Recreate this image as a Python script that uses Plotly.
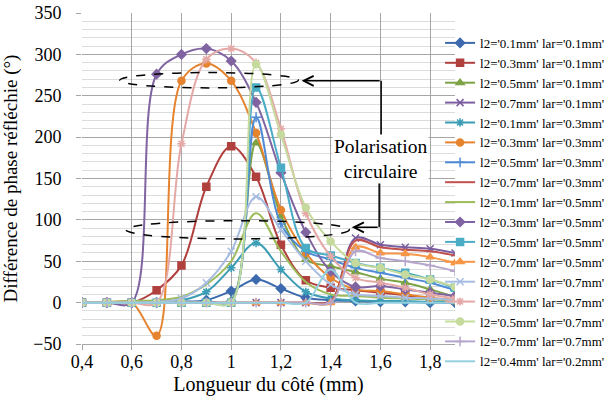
import plotly.graph_objects as go

x_vals = [0.4, 0.5, 0.6, 0.7, 0.8, 0.9, 1.0, 1.1, 1.2, 1.3, 1.4, 1.5, 1.6, 1.7, 1.8, 1.9]

names = [
    "l2='0.1mm' lar='0.1mm'", "l2='0.3mm' lar='0.1mm'", "l2='0.5mm' lar='0.1mm'", "l2='0.7mm' lar='0.1mm'",
    "l2='0.1mm' lar='0.3mm'", "l2='0.3mm' lar='0.3mm'", "l2='0.5mm' lar='0.3mm'", "l2='0.7mm' lar='0.3mm'",
    "l2='0.1mm' lar='0.5mm'", "l2='0.3mm' lar='0.5mm'", "l2='0.5mm' lar='0.5mm'", "l2='0.7mm' lar='0.5mm'",
    "l2='0.1mm' lar='0.7mm'", "l2='0.3mm' lar='0.7mm'", "l2='0.5mm' lar='0.7mm'", "l2='0.7mm' lar='0.7mm'",
    "l2='0.4mm' lar='0.2mm'",
]

s01_01 = [0, 0, 0, 0, 1, 3, 14, 28, 17, 6, 3, 2, 1, 1, 0, 0]
s03_01 = [0, 0, 0, 15, 45, 140, 189, 152, 70, 27, 18, 15, 12, 9, 5, 3]
s05_01 = [0, 0, 0, 0, 0, 1, 3, 193, 105, 52, 44, 37, 29, 24, 16, 7]
s07_01 = [0, 0, 0, 0, 0, 0, 0, 0, 0, 0, 2, 78, 70, 67, 65, 60]
s01_03 = [0, 0, 0, 1, 3, 13, 42, 72, 40, 13, 5, 3, 2, 2, 1, 1]
s03_03 = [0, 0, 0, -40, 268, 289, 268, 205, 112, 60, 30, 16, 14, 10, 6, 3]
s05_03 = [0, 0, 0, 0, 0, 1, 2, 224, 95, 62, 52, 42, 36, 30, 24, 15]
s07_03 = [0, 0, 0, 0, 0, 0, 0, 0, 0, 0, 2, 75, 67, 64, 62, 57]
s01_05 = [0, 1, 2, 3, 7, 22, 50, 108, 62, 25, 10, 8, 6, 5, 4, 3]
s03_05 = [0, 0, 0, 276, 300, 307, 292, 242, 157, 85, 38, 19, 20, 16, 12, 8]
s05_05 = [0, 0, 0, 0, 0, 0, 0, 260, 163, 66, 57, 48, 42, 36, 28, 18]
s07_05 = [0, 0, 0, 0, 0, 0, 0, 0, 0, 0, 0, 67, 60, 59, 55, 48]
s01_07 = [0, 0, 0, 1, 5, 24, 62, 128, 88, 50, 22, 10, 8, 6, 5, 3]
s03_07 = [0, 0, 0, 0, 192, 294, 307, 290, 210, 108, 56, 30, 24, 18, 10, 5]
s05_07 = [0, 0, 0, 0, 0, 0, 0, 288, 203, 115, 74, 48, 42, 34, 28, 19]
s07_07 = [0, 0, 0, 0, 0, 0, 0, 0, 0, 0, 0, 62, 54, 50, 45, 38]
s04_02 = [0, 0, 0, 0, 0, 0, 0, 0, 0, 0, 40, 0, 0, 0, 0, 0]

series = [s01_01, s03_01, s05_01, s07_01, s01_03, s03_03, s05_03, s07_03,
          s01_05, s03_05, s05_05, s07_05, s01_07, s03_07, s05_07, s07_07, s04_02]

colors = ["#3D6AAE", "#B0403D", "#7DA345", "#7B5EA0", "#3A9DB5", "#E5832F",
          "#4F8BD5", "#C0504D", "#9BBB59", "#8064A2", "#4BACC6", "#F79646",
          "#A7BCE2", "#E4A9A7", "#C6DA9E", "#B6A6CC", "#94D0E0"]
symbols = ["diamond", "square", "triangle-up", "x-thin-open", "asterisk-open", "circle",
           "cross-thin-open", None, None, "diamond", "square", "triangle-up",
           "x-thin-open", "asterisk-open", "circle", "cross-thin-open", None]

FONT = "Liberation Serif"

fig = go.Figure()
for name, ys, col, sym in zip(names, series, colors, symbols):
    if sym is None:
        mode = "lines"
        marker = dict()
    else:
        mode = "lines+markers"
        marker = dict(symbol=sym, size=7, color=col, line=dict(color=col, width=1.5))
    fig.add_trace(go.Scatter(x=x_vals, y=ys, name=name, mode=mode,
                             line=dict(color=col, width=2, shape="spline", smoothing=1),
                             marker=marker))

# dashed ellipses
fig.add_shape(type="circle", xref="x", yref="y", x0=0.552, x1=1.27, y0=259.5, y1=278,
              line=dict(color="black", width=1.5, dash="dash"))
fig.add_shape(type="circle", xref="x", yref="y", x0=0.577, x1=1.475, y0=77, y1=99,
              line=dict(color="black", width=1.5, dash="dash"))
# elbow connector vertical parts
fig.add_shape(type="line", xref="x", yref="y", x0=1.603, x1=1.603, y0=268, y1=201,
              line=dict(color="black", width=1.5))
fig.add_shape(type="line", xref="x", yref="y", x0=1.595, x1=1.595, y0=145, y1=91,
              line=dict(color="black", width=1.5))
# arrows
fig.add_annotation(x=1.283, y=268, ax=1.603, ay=268, axref="x", ayref="y", xref="x", yref="y",
                   text="", showarrow=True, arrowhead=5, arrowsize=1.3, arrowwidth=1.5, arrowcolor="black")
fig.add_annotation(x=1.485, y=91, ax=1.595, ay=91, axref="x", ayref="y", xref="x", yref="y",
                   text="", showarrow=True, arrowhead=5, arrowsize=1.3, arrowwidth=1.5, arrowcolor="black")
fig.add_annotation(x=1.6, y=173, xref="x", yref="y", text="Polarisation<br>circulaire",
                   showarrow=False, bgcolor="white", font=dict(family=FONT, size=19.5, color="black"))

fig.update_layout(
    width=611, height=405,
    margin=dict(l=82, r=156, t=13, b=61, autoexpand=False),
    paper_bgcolor="white", plot_bgcolor="white",
    separators=", ",
    font=dict(family=FONT, size=18, color="black"),
    showlegend=True,
    legend=dict(x=0.96, xref="paper", y=0.931, yref="container", xanchor="left", yanchor="top",
                maxheight=1,
                font=dict(family=FONT, size=13, color="black"),
                bgcolor="rgba(0,0,0,0)", tracegroupgap=0),
    xaxis=dict(range=[0.4, 1.9], tick0=0.4, dtick=0.2, showgrid=True, gridcolor="#a6a6a6",
               gridwidth=1, zeroline=False, showline=True, linecolor="#a6a6a6",
               ticks="outside", ticklen=5, tickcolor="#a6a6a6", ticklabelstandoff=-4,
               ticklabeloverflow="allow",
               title=dict(text="Longueur du côté (mm)", font=dict(family=FONT, size=20), standoff=6),
               tickfont=dict(family=FONT, size=18)),
    yaxis=dict(range=[-50, 350], tick0=0, dtick=50, showgrid=True, gridcolor="#a6a6a6",
               gridwidth=1, zeroline=False, showline=False,
               ticks="outside", ticklen=5, tickcolor="#a6a6a6", ticklabelstandoff=11,
               ticklabeloverflow="allow",
               minor=dict(dtick=10, showgrid=True, gridcolor="#dcdcdc", gridwidth=1),
               title=dict(text="Différence de phase réfléchie (°)", font=dict(family=FONT, size=19), standoff=12),
               tickfont=dict(family=FONT, size=18)),
)

# remove the browser's default 8px page margin so the figure sits at the window origin
fig.write_html("out.html", config={"displayModeBar": False},
               post_script="document.body.style.margin='0';")
